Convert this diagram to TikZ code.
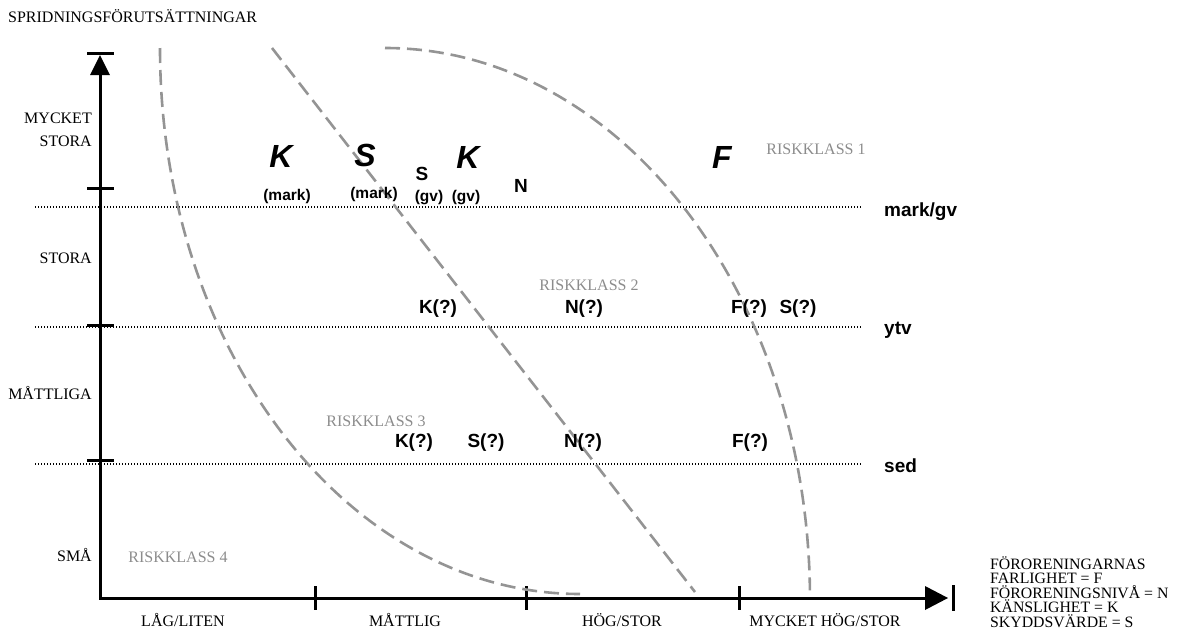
\documentclass[tikz,border=0pt]{standalone}
\usepackage{fontspec}
\setmainfont{Liberation Serif}
\newfontfamily\arialfont{Liberation Sans}
\begin{document}
\begin{tikzpicture}[x=1pt,y=1pt,
  axis/.style={line width=3pt,black},
  level/.style={line width=1.2pt,black,dash pattern=on 1.2pt off 1.8pt},
  riskline/.style={line width=2.6pt,color=black!42,dash pattern=on 15pt off 7pt},
  lbl/.style={font=\fontsize{16}{18}\selectfont,inner sep=0pt},
  leg/.style={font=\fontsize{15.8}{17}\selectfont,inner sep=0pt,anchor=base west},
  rk/.style={font=\fontsize{16}{18}\selectfont,text=black!45,inner sep=0pt},
  big/.style={font=\arialfont\bfseries\itshape\fontsize{32}{34}\selectfont,inner sep=0pt},
  mid/.style={font=\arialfont\bfseries\fontsize{19}{21}\selectfont,inner sep=0pt},
  sml/.style={font=\arialfont\bfseries\fontsize{15.5}{17}\selectfont,inner sep=0pt}]
\useasboundingbox (0,0) rectangle (1179,-635);

% axes
\coordinate (O) at (100,-598);
\coordinate (ytop) at (100,-75);
\coordinate (xend) at (928,-598);
\draw[axis] (O) -- (ytop);
\fill (90,-75) -- (110,-75) -- (100,-55) -- cycle;
\draw[axis] (87,-53) -- (114,-53);
\draw[axis,line cap=rect] (O) -- (xend);
\fill (925,-586) -- (925,-610) -- (948,-598) -- cycle;
\draw[axis] (953,-585) -- (953,-611);

% ticks
\foreach \yy in {188,325,460} \draw[axis] (87,-\yy) -- (114,-\yy);
\foreach \xx in {315,526,739} \draw[axis] (\xx,-586) -- (\xx,-610);

% level lines
\coordinate (m0) at (35,-207); \coordinate (m1) at (862,-207);
\coordinate (y0) at (35,-327); \coordinate (y1) at (862,-327);
\coordinate (s0) at (35,-464); \coordinate (s1) at (862,-464);
\draw[level] (m0) -- (m1);
\draw[level] (y0) -- (y1);
\draw[level] (s0) -- (s1);
\node[mid,anchor=west] (lmark) at (884,-212) {mark/gv};
\node[mid,anchor=west] (lytv) at (884,-330) {ytv};
\node[mid,anchor=west] (lsed) at (884,-466) {sed};

% risk class boundaries
\draw[riskline] (160,-48) arc[start angle=180, end angle=270, x radius=420, y radius=546];
\draw[riskline] (272,-48) -- (695,-592);
\draw[riskline] (385,-48) arc[start angle=90, end angle=1, x radius=425, y radius=552];

% axis titles
\node[lbl,anchor=west] (ttl) at (8,-16) {SPRIDNINGSFÖRUTSÄTTNINGAR};
\node[lbl,anchor=east] (ya1) at (92,-118) {MYCKET};
\node[lbl,anchor=east] (ya2) at (92,-141) {STORA};
\node[lbl,anchor=east] (yb) at (92,-258) {STORA};
\node[lbl,anchor=east] (yc) at (92,-393) {MÅTTLIGA};
\node[lbl,anchor=east] (yd) at (92,-555) {SMÅ};
\node[lbl] (xa) at (183,-620) {LÅG/LITEN};
\node[lbl] (xb) at (405,-620) {MÅTTLIG};
\node[lbl] (xc) at (622,-620) {HÖG/STOR};
\node[lbl] (xd) at (825,-620) {MYCKET HÖG/STOR};

% legend
\node[leg] (lg1) at (990,-569) {FÖRORENINGARNAS};
\node[leg] (lg2) at (990,-583.5) {FARLIGHET = F};
\node[leg] (lg3) at (990,-598) {FÖRORENINGSNIVÅ = N};
\node[leg] (lg4) at (990,-612.5) {KÄNSLIGHET = K};
\node[leg] (lg5) at (990,-627) {SKYDDSVÄRDE = S};

% risk classes
\node[rk] (r1) at (816,-149) {RISKKLASS 1};
\node[rk] (r2) at (589,-285) {RISKKLASS 2};
\node[rk] (r3) at (376,-421) {RISKKLASS 3};
\node[rk] (r4) at (178,-557) {RISKKLASS 4};

% parameters, upper row
\node[big] (K1) at (281,-156) {K};
\node[big] (S1) at (365,-155) {S};
\node[big] (K2) at (468,-157) {K};
\node[big] (F1) at (722,-157) {F};
\node[sml] (mk1) at (287,-196) {(mark)};
\node[sml] (mk2) at (374,-194) {(mark)};
\node[mid] (S2) at (422,-174) {S};
\node[sml] (gv1) at (429,-198) {(gv)};
\node[sml] (gv2) at (466,-198) {(gv)};
\node[mid] (N1) at (521,-186) {N};

% middle row
\node[mid] (K3) at (438,-309) {K(?)};
\node[mid] (N2) at (584,-309) {N(?)};
\node[mid] (F2) at (749,-309) {F(?)};
\node[mid] (S3) at (798,-309) {S(?)};

% lower row
\node[mid] (K4) at (414,-443) {K(?)};
\node[mid] (S4) at (486,-443) {S(?)};
\node[mid] (N3) at (583,-443) {N(?)};
\node[mid] (F3) at (750,-443) {F(?)};
\end{tikzpicture}
\end{document}
